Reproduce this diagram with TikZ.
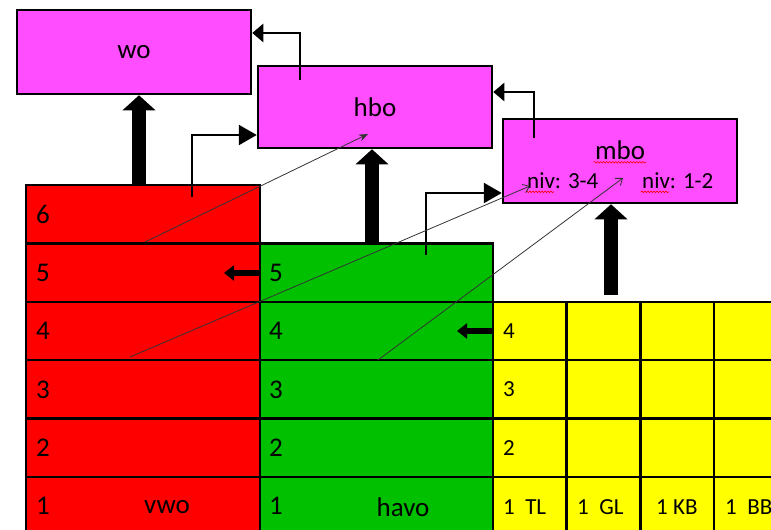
\documentclass[tikz,border=0pt]{standalone}
\usepackage{fontspec}
\setmainfont{Carlito}
\usetikzlibrary{arrows.meta,decorations.pathmorphing}

\definecolor{vwored}{HTML}{FF0000}
\definecolor{havogreen}{HTML}{00C000}
\definecolor{mboyellow}{HTML}{FFFF00}
\definecolor{vervolg}{HTML}{FF4DFF}

\tikzset{
    cell/.style={draw, line width=2.5pt},
    level/.style={draw, line width=2.5pt, fill=vervolg, minimum width=234, minimum height=84,
        font=\fontsize{27}{27}\selectfont},
    num/.style={anchor=west, inner sep=0pt, font=\fontsize{27}{27}\selectfont},
    smallnum/.style={anchor=west, inner sep=0pt, font=\fontsize{23}{23}\selectfont},
    bigarrow/.style={line width=14pt, -{Triangle[length=15pt,width=32pt]}},
    sidearrow/.style={line width=6pt, -{Triangle[length=10pt,width=15pt]}},
    elbow/.style={line width=2.5pt, -{Triangle[length=18pt,width=20pt]}},
    shortelbow/.style={line width=2.5pt, -{Triangle[length=11pt,width=18pt]}},
    thinarrow/.style={line width=0.8pt, draw=black!80},
    squiggle/.style={red, line width=0.6pt, decorate,
        decoration={snake, amplitude=0.8pt, segment length=3pt}}
}

\begin{document}
\begin{tikzpicture}[x=1pt, y=-1pt]
    \clip (0, 0) rectangle (771, 530);

    % columns
    \foreach \i in {1,...,6}
        \draw [cell, fill=vwored] (26, {477-(\i-1)*58.4}) rectangle (260, {535.4-(\i-1)*58.4});
    \foreach \i in {1,...,5}
        \draw [cell, fill=havogreen] (260, {477-(\i-1)*58.4}) rectangle (493, {535.4-(\i-1)*58.4});
    \foreach \i in {1,...,4}
        \foreach \c in {0,...,3}
            \draw [cell, fill=mboyellow] ({493+\c*73.7}, {477-(\i-1)*58.4}) rectangle ({566.7+\c*73.7}, {535.4-(\i-1)*58.4});

    % vervolgopleidingen
    \node [level] (wo) at (134, 52) {wo};
    \node [level, minimum height=82] (hbo) at (375, 107) {hbo};
    \node [level] (mbo) at (620, 161) {};
    \node [inner sep=1pt, font=\fontsize{27}{27}\selectfont] (mbotxt) at (620, 150) {mbo};
    \node [smallnum, inner sep=1pt] (niv34) at (526, 181) {niv: 3-4};
    \node [smallnum, inner sep=1pt] (niv12) at (641, 181) {niv: 1-2};
    \draw [squiggle] ([yshift=-3pt]mbotxt.base west) -- ([yshift=-3pt]mbotxt.base east);
    \draw [squiggle] ([yshift=-3pt]niv34.base west) -- ++(28, 0);
    \draw [squiggle] ([yshift=-3pt]niv12.base west) -- ++(28, 0);

    % row numbers
    \foreach \i in {1,...,6}
        \node [num] (vwo\i) at (36, {506.2-(\i-1)*58.4}) {\i};
    \foreach \i in {1,...,5}
        \node [num] (havo\i) at (269, {506.2-(\i-1)*58.4}) {\i};
    \foreach \i in {2,...,4}
        \node [smallnum] (mbo\i) at (503, {506.2-(\i-1)*58.4}) {\i};
    \node [font=\fontsize{27}{27}\selectfont] (vwolabel) at (167, 507) {vwo};
    \node [font=\fontsize{27}{27}\selectfont] (havolabel) at (403, 507) {havo};
    \node [smallnum] (tl) at (503, 507) {1\ \ TL};
    \node [smallnum] (gl) at (577, 507) {1\ \ GL};
    \node [smallnum] (kb) at (656, 507) {1 KB};
    \node [smallnum] (bb) at (725, 507) {1\ \ BB};

    % doorstroom
    \coordinate (vwotop) at (139, 185);
    \coordinate (havotop) at (372, 243);
    \coordinate (mbotop) at (611, 295);
    \draw [bigarrow] (vwotop) -- (vwotop |- wo.south);
    \draw [bigarrow] (havotop) -- (havotop |- hbo.south);
    \draw [bigarrow] (mbotop) -- (mbotop |- mbo.south);

    \coordinate (vwoup) at (192, 197);
    \coordinate (havoup) at (426, 255);
    \coordinate (hboup) at (300, 80);
    \coordinate (mboup) at (534, 138);
    \draw [elbow] (vwoup) |- ([yshift=-28pt]hbo.west);
    \draw [elbow] (havoup) |- ([yshift=-32pt]mbo.west);
    \draw [shortelbow] (hboup) |- ([yshift=19pt]wo.east);
    \draw [shortelbow] (mboup) |- ([yshift=15pt]hbo.east);

    \coordinate (havo5edge) at (260, 273);
    \coordinate (mbo4edge) at (493, 331);
    \draw [sidearrow] (havo5edge) -- ++(-36, 0);
    \draw [sidearrow] (mbo4edge) -- ++(-36, 0);

    \coordinate (vwo6link) at (145, 242);
    \coordinate (vwo4link) at (130, 357);
    \coordinate (havo3link) at (378, 360);
    \coordinate (hbotarget) at (368, 134);
    \coordinate (niv34target) at (530, 186);
    \coordinate (niv12target) at (623, 178);
    \draw [thinarrow, -{Stealth[length=9pt,width=7pt]}] (vwo6link) -- (hbotarget);
    \draw [thinarrow, -{Straight Barb[length=6pt,width=9pt]}] (vwo4link) -- (niv34target);
    \draw [thinarrow, -{Straight Barb[length=6pt,width=9pt]}] (havo3link) -- (niv12target);
\end{tikzpicture}
\end{document}
